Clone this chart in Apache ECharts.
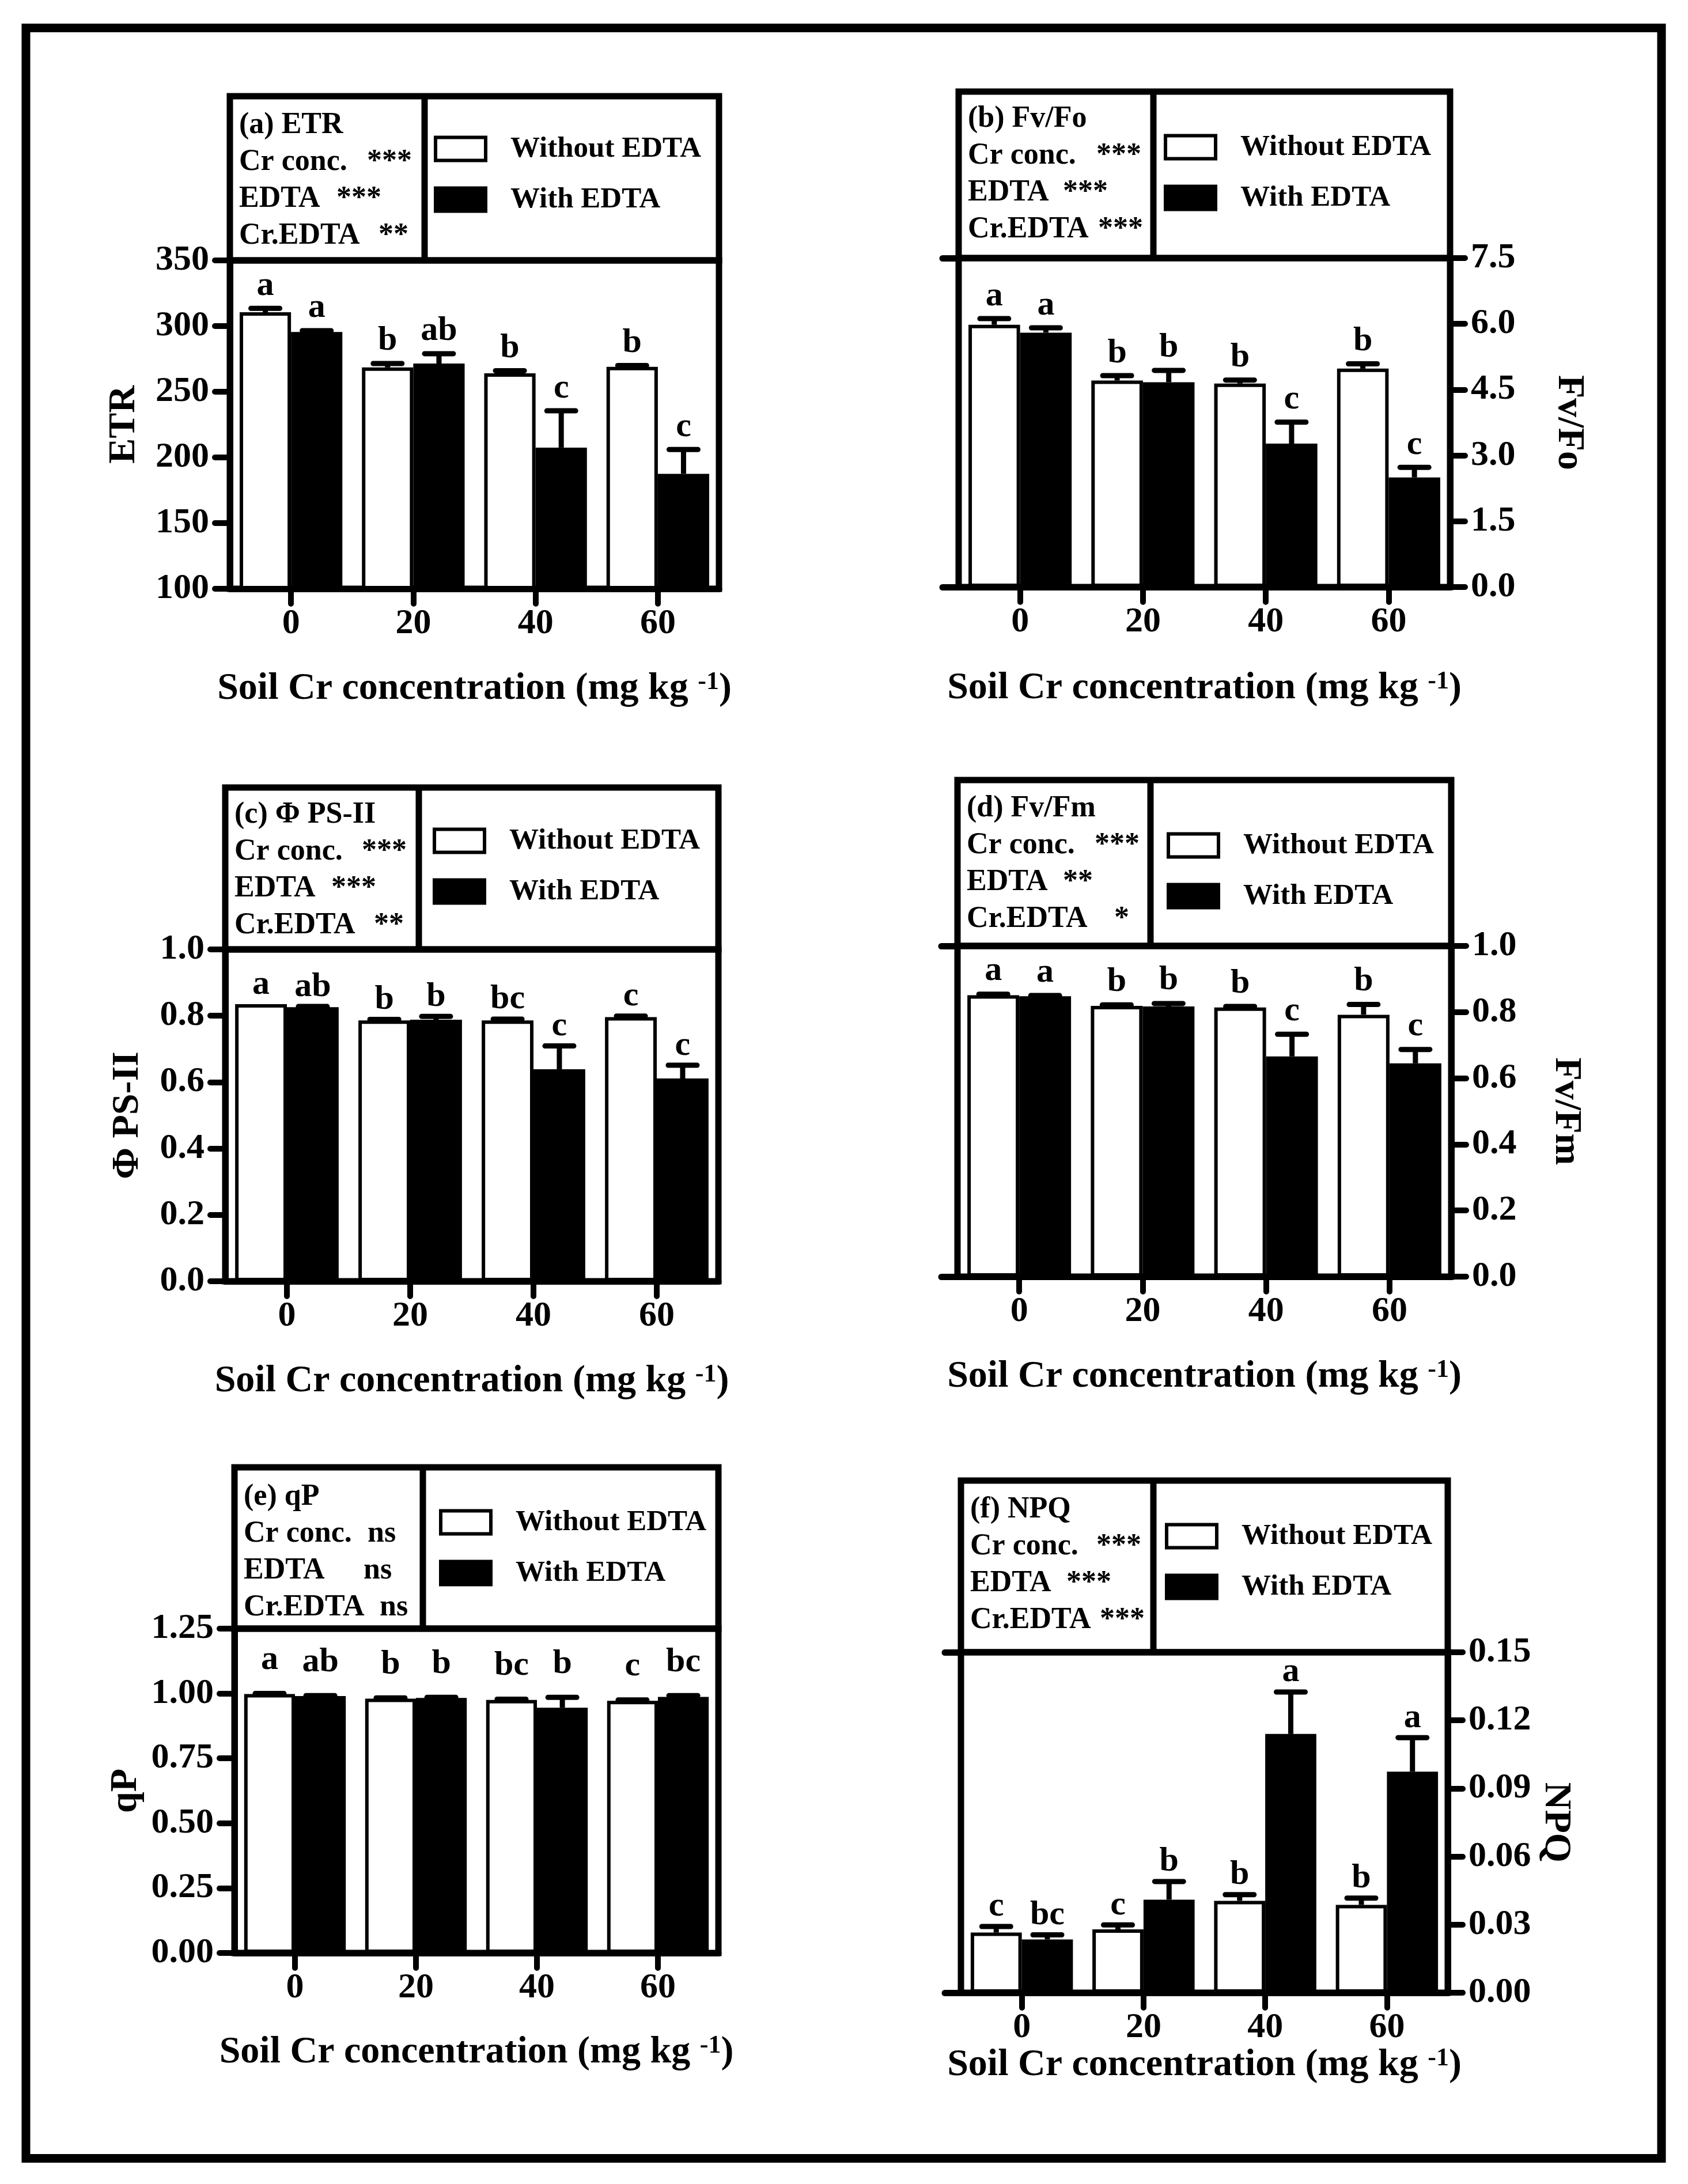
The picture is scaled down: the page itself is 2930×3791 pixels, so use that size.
<!DOCTYPE html>
<html><head><meta charset="utf-8">
<script src="https://cdn.jsdelivr.net/npm/echarts@6.0.0/dist/echarts.min.js"></script>
<style>html,body{margin:0;padding:0;background:#fff}#c{width:2930px;height:3791px}</style>
</head><body><div id="c"></div>
<script>
// ---------- DATA ----------
const categories = ['0', '20', '40', '60'];
const seriesNames = ['Without EDTA', 'With EDTA'];

const etrWithout = [310.5, 268.5, 264, 269];
const etrWithoutErr = [3, 3, 2, 1];
const etrWith = [295.5, 271.5, 207.5, 187.5];
const etrWithErr = [1, 7.5, 28, 18.5];
const etrWithoutLetters = ['a', 'b', 'b', 'b'];
const etrWithLetters = ['a', 'ab', 'c', 'c'];

const fvfoWithout = [5.98, 4.71, 4.64, 4.98];
const fvfoWithoutErr = [0.14, 0.11, 0.08, 0.11];
const fvfoWith = [5.80, 4.67, 3.27, 2.50];
const fvfoWithErr = [0.11, 0.27, 0.49, 0.23];
const fvfoWithoutLetters = ['a', 'b', 'b', 'b'];
const fvfoWithLetters = ['a', 'b', 'c', 'c'];

const psiiWithout = [0.835, 0.786, 0.786, 0.796];
const psiiWithoutErr = [0, 0.003, 0.004, 0.003];
const psiiWith = [0.826, 0.788, 0.639, 0.611];
const psiiWithErr = [0.002, 0.01, 0.07, 0.04];
const psiiWithoutLetters = ['a', 'b', 'bc', 'c'];
const psiiWithLetters = ['ab', 'b', 'c', 'c'];

const fvfmWithout = [0.851, 0.819, 0.814, 0.792];
const fvfmWithoutErr = [0.003, 0.003, 0.003, 0.031];
const fvfmWith = [0.848, 0.817, 0.666, 0.645];
const fvfmWithErr = [0.002, 0.009, 0.067, 0.042];
const fvfmWithoutLetters = ['a', 'b', 'b', 'b'];
const fvfmWithLetters = ['a', 'b', 'c', 'c'];

const qpWithout = [0.998, 0.98, 0.975, 0.972];
const qpWithoutErr = [0.002, 0.003, 0.003, 0.003];
const qpWith = [0.99, 0.983, 0.945, 0.987];
const qpWithErr = [0.002, 0.002, 0.04, 0.005];
const qpWithoutLetters = ['a', 'b', 'bc', 'c'];
const qpWithLetters = ['ab', 'b', 'b', 'bc'];

const npqWithout = [0.0265, 0.0279, 0.0405, 0.0387];
const npqWithoutErr = [0.0027, 0.002, 0.0027, 0.003];
const npqWith = [0.0235, 0.041, 0.114, 0.0974];
const npqWithErr = [0.002, 0.008, 0.0185, 0.015];
const npqWithoutLetters = ['c', 'c', 'b', 'b'];
const npqWithLetters = ['bc', 'b', 'a', 'a'];

const factorNames = ['Cr conc.', 'EDTA', 'Cr.EDTA'];
const etrSig = ['***', '***', '**'];
const fvfoSig = ['***', '***', '***'];
const psiiSig = ['***', '***', '**'];
const fvfmSig = ['***', '**', '*'];
const qpSig = ['ns', 'ns', 'ns'];
const npqSig = ['***', '***', '***'];

const panelTitles = ['(a) ETR', '(b) Fv/Fo', '(c) \u03A6 PS-II', '(d) Fv/Fm', '(e) qP', '(f) NPQ'];
const yNames = ['ETR', 'Fv/Fo', '\u03A6 PS-II', 'Fv/Fm', 'qP', 'NPQ'];
const yTickMin = [100, 0, 0, 0, 0, 0];
const yTickMax = [350, 7.5, 1.0, 1.0, 1.25, 0.15];
const yTickStep = [50, 1.5, 0.2, 0.2, 0.25, 0.03];
const yTickDecimals = [0, 1, 1, 1, 2, 2];

// ---------- LAYOUT ----------
const FONT = '"Liberation Serif", "Times New Roman", serif';
const layout = [
  {left: 399, right: 1248, top: 452, bottom: 1022, boxTop: 167, divider: 737, side: 'left', nameGap: 150, xNameGap: 141, letterGap: 39, legendTop: 66, iconLeft: 753, titleOff: 51, sigX: [238, 185, 258]},
  {left: 1664, right: 2517, top: 448, bottom: 1019, boxTop: 159, divider: 2002, side: 'right', nameGap: 173, xNameGap: 143, letterGap: 39, legendTop: 71, iconLeft: 2020, titleOff: 48, sigX: [239, 181, 242]},
  {left: 391, right: 1247, top: 1648, bottom: 2224, boxTop: 1367, divider: 727, side: 'left', nameGap: 136, xNameGap: 141, letterGap: 34, legendTop: 67, iconLeft: 751, titleOff: 48, sigX: [237, 184, 258]},
  {left: 1662, right: 2519, top: 1642, bottom: 2216, boxTop: 1354, divider: 1997, side: 'right', nameGap: 166, xNameGap: 141, letterGap: 40, legendTop: 88, iconLeft: 2025, titleOff: 50, sigX: [238, 183, 272]},
  {left: 407, right: 1247, top: 2827, bottom: 3390, boxTop: 2547, divider: 734, side: 'left', nameGap: 155, xNameGap: 140, letterGap: 58, legendTop: 70, iconLeft: 762, titleOff: 52, sigX: [231, 224, 252]},
  {left: 1668, right: 2513, top: 2868, bottom: 3459, boxTop: 2570, divider: 2002, side: 'right', nameGap: 154, xNameGap: 82, letterGap: 34, legendTop: 71, iconLeft: 2022, titleOff: 51, sigX: [235, 183, 241]}
];

const panelData = [
  [etrWithout, etrWithoutErr, etrWithoutLetters, etrWith, etrWithErr, etrWithLetters, etrSig],
  [fvfoWithout, fvfoWithoutErr, fvfoWithoutLetters, fvfoWith, fvfoWithErr, fvfoWithLetters, fvfoSig],
  [psiiWithout, psiiWithoutErr, psiiWithoutLetters, psiiWith, psiiWithErr, psiiWithLetters, psiiSig],
  [fvfmWithout, fvfmWithoutErr, fvfmWithoutLetters, fvfmWith, fvfmWithErr, fvfmWithLetters, fvfmSig],
  [qpWithout, qpWithoutErr, qpWithoutLetters, qpWith, qpWithErr, qpWithLetters, qpSig],
  [npqWithout, npqWithoutErr, npqWithoutLetters, npqWith, npqWithErr, npqWithLetters, npqSig]
];

const GAP = 0.16;
const AXIS_W = 11;

function errSeries(i, yIdx, vals, errs, letters, side, gap) {
  return {
    type: 'custom', name: 'err', xAxisIndex: i, yAxisIndex: yIdx, z: 4, silent: true,
    data: vals.map((v, k) => [k, v, errs[k]]),
    renderItem: function (params, api) {
      const k = api.value(0), v = api.value(1), e = api.value(2);
      const band = api.size([1, 0])[0];
      const barW = band * (1 - GAP) / 2;
      const base = api.coord([k, v]);
      const cx = base[0] + side * barW / 2;
      const yTop = api.coord([k, v + e])[1];
      const children = [];
      if (e > 0) {
        children.push({type: 'line', shape: {x1: cx, y1: base[1], x2: cx, y2: yTop}, style: {stroke: '#000', lineWidth: 9}});
        children.push({type: 'line', shape: {x1: cx - 25, y1: yTop, x2: cx + 25, y2: yTop}, style: {stroke: '#000', lineWidth: 9, lineCap: 'round'}});
      }
      children.push({type: 'text', style: {text: letters[params.dataIndex], x: cx, y: yTop - gap, align: 'center', verticalAlign: 'middle', font: 'bold 60px ' + FONT, fill: '#000'}});
      return {type: 'group', children: children};
    }
  };
}

const option = {animation: false, backgroundColor: '#fff', grid: [], xAxis: [], yAxis: [], series: [], legend: [], graphic: []};

const nameStyle = {fontFamily: FONT, fontWeight: 'bold', fontSize: 66, color: '#000'};

layout.forEach((p, i) => {
  const d = panelData[i];
  option.grid.push({left: p.left, top: p.top, width: p.right - p.left, height: p.bottom - p.top, show: true, borderColor: '#000', borderWidth: AXIS_W, backgroundColor: 'transparent'});
  option.xAxis.push({
    type: 'category', gridIndex: i, data: categories, boundaryGap: true, z: 5,
    axisLine: {show: true, onZero: false, lineStyle: {color: '#000', width: AXIS_W}},
    axisTick: {show: true, alignWithLabel: true, length: 26, lineStyle: {color: '#000', width: 10, cap: 'round'}},
    axisLabel: {color: '#000', fontFamily: FONT, fontWeight: 'bold', fontSize: 62, margin: 30},
    name: '{n|Soil Cr concentration (mg kg }{s|-1}{n|)}', nameLocation: 'middle', nameGap: p.xNameGap,
    nameTextStyle: {rich: {n: nameStyle, s: {fontFamily: FONT, fontWeight: 'bold', fontSize: 44, color: '#000', verticalAlign: 'top'}}}
  });
  const yIdx = option.yAxis.length;
  option.yAxis.push({
    type: 'value', gridIndex: i, position: p.side, min: yTickMin[i], max: yTickMax[i], interval: yTickStep[i], z: 5,
    axisLine: {show: true, onZero: false, lineStyle: {color: '#000', width: AXIS_W}},
    axisTick: {show: true, length: 26, lineStyle: {color: '#000', width: 10, cap: 'round'}},
    axisLabel: {color: '#000', fontFamily: FONT, fontWeight: 'bold', fontSize: 62, margin: 36, formatter: v => Number(v).toFixed(yTickDecimals[i])},
    splitLine: {show: false},
    name: yNames[i], nameLocation: 'middle', nameGap: p.nameGap, nameRotate: p.side === 'left' ? 90 : -90,
    nameTextStyle: nameStyle
  });
  if (p.side === 'right') {
    option.yAxis.push({
      type: 'value', gridIndex: i, position: 'left', min: yTickMin[i], max: yTickMax[i], interval: yTickMax[i] - yTickMin[i], z: 5,
      axisLine: {show: false}, axisTick: {show: true, length: 28, lineStyle: {color: '#000', width: AXIS_W, cap: 'round'}},
      axisLabel: {show: false}, splitLine: {show: false}
    });
  }
  option.series.push({type: 'bar', name: seriesNames[0], xAxisIndex: i, yAxisIndex: yIdx, data: d[0], barGap: '0%', barCategoryGap: (GAP * 100) + '%', itemStyle: {color: '#fff', borderColor: '#000', borderWidth: 6}, z: 2});
  option.series.push({type: 'bar', name: seriesNames[1], xAxisIndex: i, yAxisIndex: yIdx, data: d[3], barGap: '0%', barCategoryGap: (GAP * 100) + '%', itemStyle: {color: '#000', borderColor: '#000', borderWidth: 0}, z: 3});
  option.series.push(errSeries(i, yIdx, d[0], d[1], d[2], -1, p.letterGap));
  option.series.push(errSeries(i, yIdx, d[3], d[4], d[5], 1, p.letterGap));

  option.legend.push({
    orient: 'vertical', left: p.iconLeft, top: p.boxTop + p.legendTop, padding: 0, itemWidth: 87, itemHeight: 40, itemGap: 37, icon: 'rect',
    data: seriesNames, selectedMode: false,
    textStyle: {fontFamily: FONT, fontWeight: 'bold', fontSize: 51, color: '#000', padding: [0, 0, 0, 38]},
    itemStyle: {borderWidth: 6}
  });

  // legend box + divider
  option.graphic.push({type: 'rect', shape: {x: p.left, y: p.boxTop, width: p.right - p.left, height: p.top - p.boxTop}, style: {fill: 'none', stroke: '#000', lineWidth: AXIS_W}, z: 10});
  option.graphic.push({type: 'line', shape: {x1: p.divider, y1: p.boxTop, x2: p.divider, y2: p.top}, style: {stroke: '#000', lineWidth: AXIS_W}, z: 10});
  // text block
  const tx = p.left + 16;
  const lines = [panelTitles[i]].concat(factorNames);
  lines.forEach((t, li) => {
    option.graphic.push({type: 'text', z: 10, style: {text: t, x: tx, y: p.boxTop + p.titleOff + li * 64, verticalAlign: 'middle', font: 'bold 52px ' + FONT, fill: '#000'}});
  });
  d[6].forEach((s, li) => {
    option.graphic.push({type: 'text', z: 10, style: {text: s, x: p.left + p.sigX[li], y: p.boxTop + p.titleOff + (li + 1) * 64, verticalAlign: 'middle', font: 'bold 52px ' + FONT, fill: '#000'}});
  });
});

option.graphic.push({type: 'rect', shape: {x: 45, y: 48.5, width: 2839, height: 3698}, style: {fill: 'none', stroke: '#000', lineWidth: 15}, z: 10});

const chart = echarts.init(document.getElementById('c'), null, {renderer: 'canvas', width: 2930, height: 3791});
chart.setOption(option);
</script>
</body></html>
